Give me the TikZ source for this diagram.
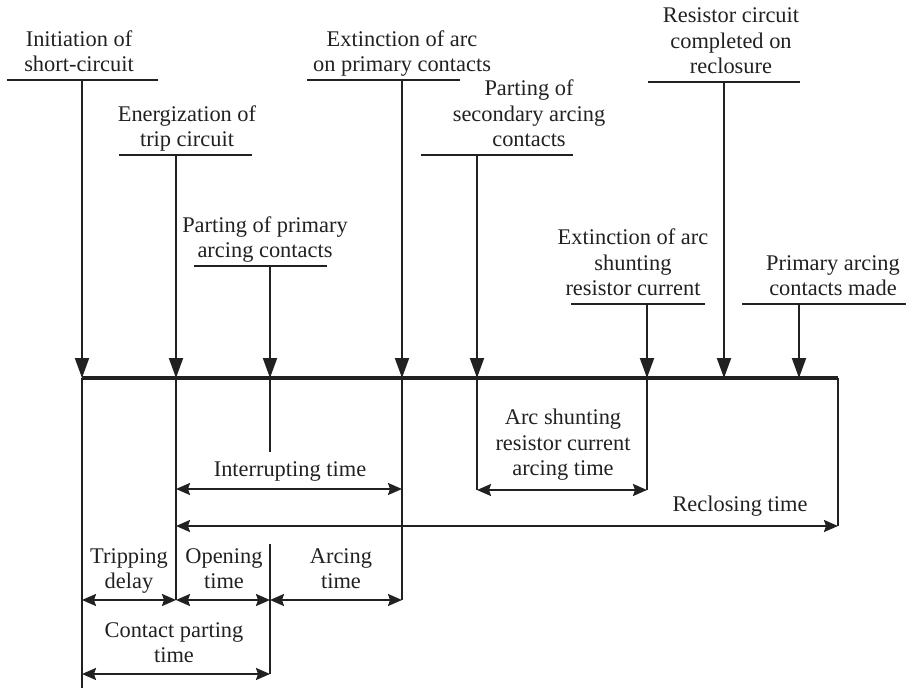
\documentclass[tikz,border=0pt]{standalone}
\usepackage{fontspec}
\setmainfont{Liberation Serif}
\usepackage{tikz}
\usetikzlibrary{arrows.meta}
\definecolor{ink}{rgb}{0.13,0.13,0.13}

\tikzset{
  event/.style={ink, line width=1pt, -{Triangle[length=10pt,width=7pt]}},
  bar/.style={ink, line width=1pt},
  tick/.style={ink, line width=1pt},
  span/.style={ink, line width=1pt, {Stealth[length=7pt,width=6pt,inset=1pt]}-{Stealth[length=7pt,width=6pt,inset=1pt]}},
  lbl/.style={align=center, anchor=south, inner sep=0pt, text=ink,
    font=\fontsize{11.2}{12.8}\selectfont, execute at end node=\strut},
}

\begin{document}
\begin{tikzpicture}[x=0.5pt,y=-0.5pt]
  \useasboundingbox (0,0) rectangle (906,690);

  % time axis
  \coordinate (a1) at (82,378);
  \coordinate (a2) at (176,378);
  \coordinate (a3) at (270,378);
  \coordinate (a4) at (402,378);
  \coordinate (a5) at (477,378);
  \coordinate (a6) at (647,378);
  \coordinate (a7) at (724,378);
  \coordinate (a8) at (799,378);
  \coordinate (a9) at (838,378);
  \draw[ink, line width=1.6pt] (a1) -- (a9);

  % events above the axis
  \node[lbl] (t1) at (79,80) {Initiation of\\short-circuit};
  \node[lbl] (t2) at (187,155) {Energization of\\trip circuit};
  \node[lbl] (t3) at (265,266) {Parting of primary\\arcing contacts};
  \node[lbl] (t4) at (402,80) {Extinction of arc\\on primary contacts};
  \node[lbl] (t5) at (529,155) {Parting of\\secondary arcing\\contacts};
  \node[lbl] (t6) at (633,304) {Extinction of arc\\shunting\\resistor current};
  \node[lbl] (t7) at (731,82) {Resistor circuit\\completed on\\reclosure};
  \node[lbl] (t8) at (833,304) {Primary arcing\\contacts made};

  \draw[bar] (7,80) -- (158,80);
  \draw[bar] (119,155) -- (252,155);
  \draw[bar] (194,266) -- (327,266);
  \draw[bar] (307,80) -- (460,80);
  \draw[bar] (421,155) -- (573,155);
  \draw[bar] (571,304) -- (705,304);
  \draw[bar] (648,82) -- (800,82);
  \draw[bar] (742,304) -- (906,304);

  \coordinate (b1) at (82,80);
  \coordinate (b2) at (176,155);
  \coordinate (b3) at (270,266);
  \coordinate (b4) at (402,80);
  \coordinate (b5) at (477,155);
  \coordinate (b6) at (647,304);
  \coordinate (b7) at (724,82);
  \coordinate (b8) at (799,304);
  \draw[event] (b1) -- (a1);
  \draw[event] (b2) -- (a2);
  \draw[event] (b3) -- (a3);
  \draw[event] (b4) -- (a4);
  \draw[event] (b5) -- (a5);
  \draw[event] (b6) -- (a6);
  \draw[event] (b7) -- (a7);
  \draw[event] (b8) -- (a8);

  % drop lines below the axis
  \coordinate (d1) at (82,688);
  \coordinate (d2) at (176,600);
  \coordinate (d3) at (270,452);
  \coordinate (d4) at (402,600);
  \coordinate (d5) at (477,490);
  \coordinate (d6) at (647,490);
  \coordinate (d9) at (838,526);
  \coordinate (c3) at (270,544);
  \coordinate (e3) at (270,674);
  \draw[tick] (a1) -- (d1);
  \draw[tick] (a2) -- (d2);
  \draw[tick] (a3) -- (d3);
  \draw[tick] (c3) -- (e3);
  \draw[tick] (a4) -- (d4);
  \draw[tick] (a5) -- (d5);
  \draw[tick] (a6) -- (d6);
  \draw[tick] (a9) -- (d9);

  % intervals
  \coordinate (i1) at (176,489);
  \coordinate (i2) at (402,489);
  \draw[span] (i1) -- (i2);
  \node[lbl] (interrupt) at (290,485) {Interrupting time};

  \draw[span] (477,490) coordinate (s1) -- (647,490) coordinate (s2);
  \node[lbl] (shunt) at (563,484) {Arc shunting\\resistor current\\arcing time};

  \coordinate (r1) at (176,526);
  \draw[span] (r1) -- (d9);
  \node[lbl] (reclose) at (740,520) {Reclosing time};

  \coordinate (p1) at (82,600);
  \coordinate (p3) at (270,600);
  \draw[span] (p1) -- (d2);
  \draw[span] (d2) -- (p3);
  \draw[span] (p3) -- (d4);
  \node[lbl] (trip) at (129,597) {Tripping\\delay};
  \node[lbl] (open) at (224,597) {Opening\\time};
  \node[lbl] (arc) at (341,597) {Arcing\\time};

  \coordinate (q1) at (82,674);
  \draw[span] (q1) -- (e3);
  \node[lbl] (contact) at (174,671) {Contact parting\\time};
\end{tikzpicture}
\end{document}
